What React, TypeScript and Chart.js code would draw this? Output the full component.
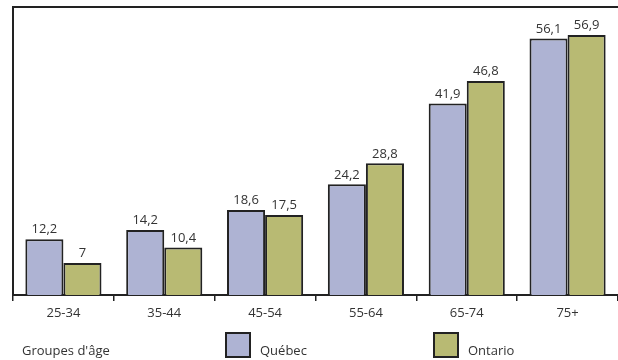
import React, { useEffect, useRef } from "react";
import { Chart, registerables } from "chart.js";

Chart.register(...registerables);

const categories = ["25-34", "35-44", "45-54", "55-64", "65-74", "75+"];
const quebec = [12.2, 14.2, 18.6, 24.2, 41.9, 56.1];
const ontario = [7, 10.4, 17.5, 28.8, 46.8, 56.9];
const seriesNames = ["Québec", "Ontario"];
const axisTitle = "Groupes d'âge";

const FONT = "'Open Sans', 'Noto Sans', sans-serif";
const TEXT = "#333333";
const LINE = "#222222";
const C_QC = "#aeb3d3";
const C_ON = "#b8ba73";

const fmt = (v: number) => String(v).replace(".", ",");

const customPlugin = {
  id: "custom",
  afterDatasetsDraw(chart: any) {
    const ctx = chart.ctx;
    const ca = chart.chartArea;
    ctx.save();
    // frame: left and top lines
    ctx.strokeStyle = LINE;
    ctx.lineWidth = 2;
    ctx.beginPath();
    ctx.moveTo(ca.left, ca.bottom);
    ctx.lineTo(ca.left, ca.top);
    ctx.lineTo(chart.width, ca.top);
    ctx.stroke();
    // value labels
    ctx.fillStyle = TEXT;
    ctx.font = `13px ${FONT}`;
    ctx.textAlign = "center";
    ctx.textBaseline = "bottom";
    chart.data.datasets.forEach((ds: any, di: number) => {
      const meta = chart.getDatasetMeta(di);
      meta.data.forEach((el: any, i: number) => {
        ctx.fillText(fmt(ds.data[i]), el.x, el.y - 3);
      });
    });
    // legend
    ctx.textAlign = "left";
    ctx.textBaseline = "middle";
    ctx.font = `13px ${FONT}`;
    ctx.fillText(axisTitle, 22, 351);
    const boxX = [226, 434];
    chart.data.datasets.forEach((ds: any, di: number) => {
      const x = boxX[di];
      ctx.fillStyle = ds.backgroundColor;
      ctx.fillRect(x, 333, 24, 24);
      ctx.strokeStyle = LINE;
      ctx.lineWidth = 2;
      ctx.strokeRect(x, 333, 24, 24);
      ctx.fillStyle = TEXT;
      ctx.fillText(ds.label, x + 34, 351);
    });
    ctx.restore();
  },
};

export default function App() {
  const ref = useRef<HTMLCanvasElement>(null);
  useEffect(() => {
    if (!ref.current) return;
    const chart = new Chart(ref.current, {
      type: "bar",
      data: {
        labels: categories,
        datasets: [
          {
            label: seriesNames[0],
            data: quebec,
            backgroundColor: C_QC,
            borderColor: LINE,
            borderWidth: 2,
            borderSkipped: "bottom",
          },
          {
            label: seriesNames[1],
            data: ontario,
            backgroundColor: C_ON,
            borderColor: LINE,
            borderWidth: 2,
            borderSkipped: "bottom",
          },
        ],
      },
      options: {
        responsive: false,
        animation: false,
        devicePixelRatio: 1,
        layout: { padding: { left: 13, top: 7, right: 0, bottom: 0 } },
        datasets: { bar: { categoryPercentage: 0.755, barPercentage: 1 } },
        plugins: {
          legend: { display: false },
          tooltip: { enabled: false },
        },
        scales: {
          x: {
            offset: true,
            grid: {
              offset: true,
              drawOnChartArea: false,
              drawTicks: true,
              tickLength: 6,
              color: LINE,
              lineWidth: 1.5,
            },
            border: { display: true, color: LINE, width: 2 },
            ticks: {
              color: TEXT,
              font: { family: FONT, size: 13 },
              padding: 4,
            },
            afterFit: (scale: any) => {
              scale.height = 65;
            },
          },
          y: {
            display: false,
            min: 0,
            max: 63,
          },
        },
      },
      plugins: [customPlugin],
    });
    return () => chart.destroy();
  }, []);
  return (
    <div style={{ position: "absolute", left: 0, top: 0, width: 618, height: 360, background: "#fff" }}>
      <canvas ref={ref} width={618} height={360} />
    </div>
  );
}
